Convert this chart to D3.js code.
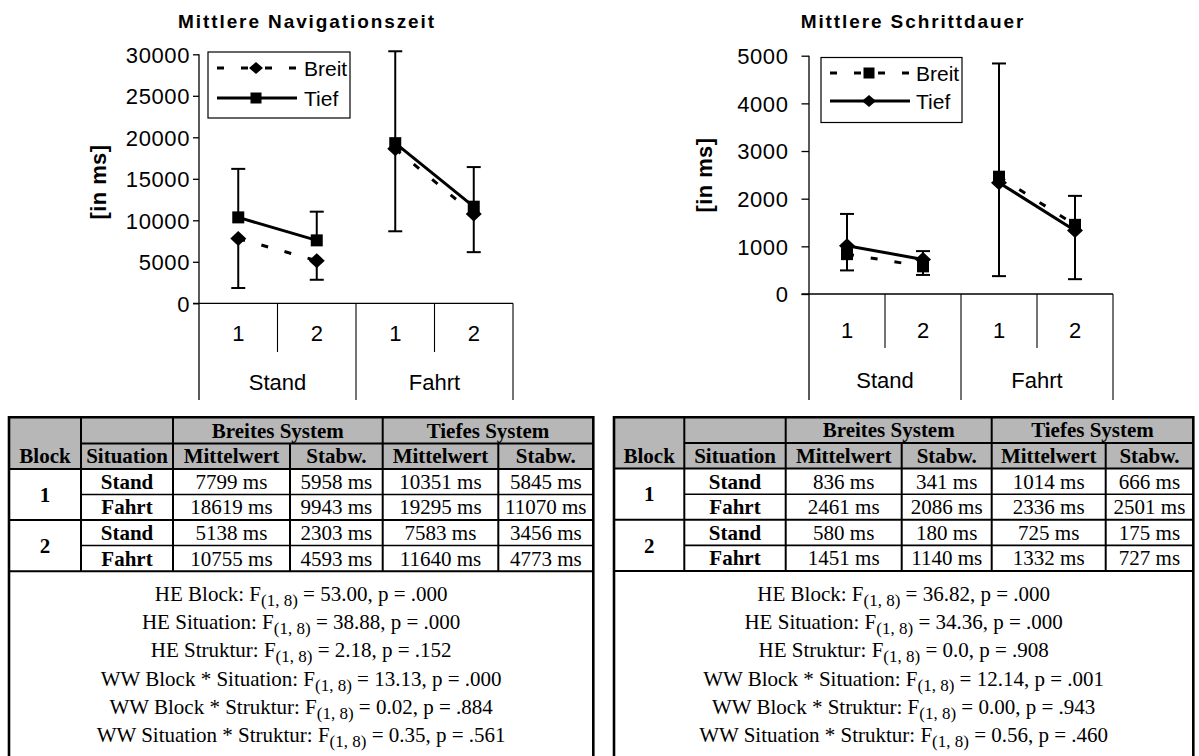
<!DOCTYPE html>
<html>
<head>
<meta charset="utf-8">
<script src="https://cdn.jsdelivr.net/npm/d3@7"></script>
<style>
  body { margin: 0; background: #fff; }
  svg { display: block; }
</style>
</head>
<body>
<svg id="fig" width="1199" height="756"></svg>
<script>
// ---- data ----------------------------------------------------------
const situations = ["Stand", "Fahrt"];
const blocks = ["1", "2"];
const seriesNames = ["Breit", "Tief"];

// table row order: Block 1 Stand, Block 1 Fahrt, Block 2 Stand, Block 2 Fahrt
const rowBlock = ["1", "1", "2", "2"];
const rowSituation = ["Stand", "Fahrt", "Stand", "Fahrt"];

// Mittlere Navigationszeit (ms)
const navBreitMean = [7799, 18619, 5138, 10755];
const navBreitSd   = [5958, 9943, 2303, 4593];
const navTiefMean  = [10351, 19295, 7583, 11640];
const navTiefSd    = [5845, 11070, 3456, 4773];
const navTicks     = [0, 5000, 10000, 15000, 20000, 25000, 30000];

// Mittlere Schrittdauer (ms)
const stepBreitMean = [836, 2461, 580, 1451];
const stepBreitSd   = [341, 2086, 180, 1140];
const stepTiefMean  = [1014, 2336, 725, 1332];
const stepTiefSd    = [666, 2501, 175, 727];
const stepTicks     = [0, 1000, 2000, 3000, 4000, 5000];

// ANOVA results: effect, F, p
const statEffects = ["HE Block", "HE Situation", "HE Struktur",
  "WW Block * Situation", "WW Block * Struktur", "WW Situation * Struktur"];
const navStatF  = ["53.00", "38.88", "2.18", "13.13", "0.02", "0.35"];
const navStatP  = [".000", ".000", ".152", ".000", ".884", ".561"];
const stepStatF = ["36.82", "34.36", "0.0", "12.14", "0.00", "0.56"];
const stepStatP = [".000", ".000", ".908", ".001", ".943", ".460"];
const statDf = "(1, 8)";

// ---- drawing -------------------------------------------------------
const svg = d3.select("#fig");
const SANS = "'Liberation Sans', Arial, sans-serif";
const SERIF = "'Liberation Serif', 'Times New Roman', serif";

function diamondPath(hw, hh) {
  return `M0,${-hh}L${hw},0L0,${hh}L${-hw},0Z`;
}
function squarePath(h) {
  return `M${-h},${-h}H${h}V${h}H${-h}Z`;
}

function drawChart(cfg) {
  const g = svg.append("g");
  const cats = situations.flatMap(s => blocks.map(b => s + "|" + b));
  const x = d3.scaleBand().domain(cats).range([cfg.xL, cfg.xR]);
  const y = d3.scaleLinear().domain([0, d3.max(cfg.ticks)]).range([cfg.y0, cfg.y1]);
  const bw = x.bandwidth();
  const cx = c => x(c) + bw / 2;
  const idx = c => {
    const [s, b] = c.split("|");
    return rowSituation.findIndex((ss, k) => ss === s && rowBlock[k] === b);
  };

  // title
  g.append("text")
    .attr("x", cfg.titleX).attr("y", 28)
    .attr("text-anchor", "middle")
    .style("font", `bold 19px ${SANS}`)
    .style("letter-spacing", "1.9px")
    .text(cfg.title);

  // y axis label
  g.append("text")
    .attr("transform", `translate(${cfg.labelX},${cfg.labelY}) rotate(-90)`)
    .attr("text-anchor", "middle")
    .style("font", `bold 22px ${SANS}`)
    .style("letter-spacing", "0.4px")
    .text("[in ms]");

  // y axis
  const ax = g.append("g")
    .attr("transform", `translate(${cfg.xL},0)`)
    .call(d3.axisLeft(y).tickValues(cfg.ticks).tickSizeOuter(0)
      .tickSize(cfg.tickLen).tickPadding(cfg.tickPad).tickFormat(d3.format("d")));
  ax.select(".domain").remove();
  ax.selectAll(".tick line").attr("stroke", "#000").attr("stroke-width", 1.3);
  ax.selectAll(".tick text")
    .style("font", `22px ${SANS}`).style("letter-spacing", "0.6px")
    .attr("fill", "#000").attr("dy", "0.36em");

  // axis frame and category dividers
  g.append("line").attr("x1", cfg.xL).attr("x2", cfg.xL)
    .attr("y1", cfg.y1).attr("y2", 400).attr("stroke", "#000").attr("stroke-width", 1.3);
  g.append("line").attr("x1", cfg.xL - cfg.tickLen).attr("x2", cfg.xR)
    .attr("y1", cfg.y0).attr("y2", cfg.y0).attr("stroke", "#000").attr("stroke-width", 1.3);
  cats.forEach((c, i) => {
    const right = x(c) + bw;
    const groupEnd = (i % blocks.length) === blocks.length - 1;
    g.append("line").attr("x1", right).attr("x2", right)
      .attr("y1", cfg.y0).attr("y2", groupEnd ? 400 : cfg.innerEnd)
      .attr("stroke", "#000").attr("stroke-width", 1.1);
  });

  // category labels
  g.selectAll(".blk").data(cats).join("text")
    .attr("x", cx).attr("y", cfg.blockY)
    .attr("text-anchor", "middle")
    .style("font", `22px ${SANS}`)
    .text(c => c.split("|")[1]);
  situations.forEach(s => {
    const c0 = s + "|" + blocks[0], c1 = s + "|" + blocks[blocks.length - 1];
    g.append("text")
      .attr("x", (x(c0) + x(c1) + bw) / 2).attr("y", cfg.sitY)
      .attr("text-anchor", "middle")
      .style("font", `22px ${SANS}`)
      .text(s);
  });

  const capW = 7;
  // error bars: Breit downwards, Tief upwards
  const bars = [];
  cats.forEach(c => {
    const i = idx(c);
    bars.push({ c, from: cfg.breitMean[i], to: cfg.breitMean[i] - cfg.breitSd[i] });
    bars.push({ c, from: cfg.tiefMean[i], to: cfg.tiefMean[i] + cfg.tiefSd[i] });
  });
  g.selectAll(".eb").data(bars).join("line")
    .attr("x1", d => cx(d.c)).attr("x2", d => cx(d.c))
    .attr("y1", d => y(d.from)).attr("y2", d => y(d.to))
    .attr("stroke", "#000").attr("stroke-width", 2);
  g.selectAll(".cap").data(bars).join("line")
    .attr("x1", d => cx(d.c) - capW).attr("x2", d => cx(d.c) + capW)
    .attr("y1", d => y(d.to)).attr("y2", d => y(d.to))
    .attr("stroke", "#000").attr("stroke-width", 2);

  // lines, connected within each situation
  const line = d3.line().x(d => cx(d.c)).y(d => y(d.v));
  const series = [
    { name: "Breit", mean: cfg.breitMean, dash: "7,17", marker: cfg.breitMarker },
    { name: "Tief", mean: cfg.tiefMean, dash: null, marker: cfg.tiefMarker }
  ];
  series.forEach(s => {
    situations.forEach(sit => {
      const pts = blocks.map(b => { const c = sit + "|" + b; return { c, v: s.mean[idx(c)] }; });
      g.append("path").attr("d", line(pts))
        .attr("fill", "none").attr("stroke", "#000").attr("stroke-width", 3)
        .attr("stroke-dasharray", s.dash);
    });
  });
  series.forEach(s => {
    g.selectAll(null).data(cats).join("path")
      .attr("transform", c => `translate(${cx(c)},${y(s.mean[idx(c)])})`)
      .attr("d", s.marker === "diamond" ? diamondPath(8, 7.5) : squarePath(6))
      .attr("fill", "#000");
  });

  // legend
  const L = cfg.legend;
  g.append("rect").attr("x", L.x).attr("y", L.y).attr("width", L.w).attr("height", L.h)
    .attr("fill", "#fff").attr("stroke", "#000").attr("stroke-width", 1.2);
  series.forEach((s, k) => {
    const ly = L.rows[k];
    g.append("line").attr("x1", L.x1).attr("x2", L.x2).attr("y1", ly).attr("y2", ly)
      .attr("stroke", "#000").attr("stroke-width", 3).attr("stroke-dasharray", s.dash);
    g.append("path").attr("transform", `translate(${L.mx},${ly})`)
      .attr("d", s.marker === "diamond" ? diamondPath(7, 6) : squarePath(5.5))
      .attr("fill", "#000");
    g.append("text").attr("x", L.tx).attr("y", ly + 7.5)
      .style("font", `21px ${SANS}`).text(s.name);
  });
}

drawChart({
  title: "Mittlere Navigationszeit", titleX: 307,
  labelX: 106, labelY: 182,
  xL: 199, xR: 513, y0: 303.3, y1: 54.3, ticks: navTicks,
  tickLen: 6, tickPad: 3, innerEnd: 352, blockY: 341, sitY: 390,
  breitMean: navBreitMean, breitSd: navBreitSd,
  tiefMean: navTiefMean, tiefSd: navTiefSd,
  breitMarker: "diamond", tiefMarker: "square",
  legend: { x: 208, y: 52, w: 142, h: 66, rows: [68, 98], x1: 217, x2: 297, mx: 256, tx: 304 }
});

drawChart({
  title: "Mittlere Schrittdauer", titleX: 913,
  labelX: 712, labelY: 175,
  xL: 809, xR: 1113, y0: 294, y1: 55.7, ticks: stepTicks,
  tickLen: 7.5, tickPad: 13, innerEnd: 348, blockY: 338, sitY: 388,
  breitMean: stepBreitMean, breitSd: stepBreitSd,
  tiefMean: stepTiefMean, tiefSd: stepTiefSd,
  breitMarker: "square", tiefMarker: "diamond",
  legend: { x: 821, y: 57.5, w: 141, h: 65, rows: [73, 101], x1: 830, x2: 910, mx: 869, tx: 916 }
});

// ---- tables --------------------------------------------------------
function drawTable(t) {
  const g = svg.append("g");
  const c = t.cols;           // column edges
  const r = t.rows;           // row edges: top, split, headerBottom, body rows...
  const right = c[c.length - 1];
  const bodyEnd = r[r.length - 1];
  const bottom = 760;

  // header shading
  g.append("rect").attr("x", c[0]).attr("y", r[0])
    .attr("width", right - c[0]).attr("height", r[2] - r[0]).attr("fill", "#b7b7b7");

  const hl = (x1, x2, yy, w) => g.append("line").attr("x1", x1).attr("x2", x2)
    .attr("y1", yy).attr("y2", yy).attr("stroke", "#000").attr("stroke-width", w);
  const vl = (xx, y1, y2, w) => g.append("line").attr("x1", xx).attr("x2", xx)
    .attr("y1", y1).attr("y2", y2).attr("stroke", "#000").attr("stroke-width", w);

  hl(c[1], right, r[1], 1.8);
  hl(c[0], right, r[2], 2);
  hl(c[1], right, r[3], 1.6);
  hl(c[0], right, r[4], 2);
  hl(c[1], right, r[5], 1.6);
  hl(c[0], right, r[6], 2);
  vl(c[1], r[0], bodyEnd, 2);
  vl(c[2], r[0], bodyEnd, 2);
  vl(c[3], r[1], bodyEnd, 2);
  vl(c[4], r[0], bodyEnd, 2);
  vl(c[5], r[1], bodyEnd, 2);
  // outer frame
  g.append("path")
    .attr("d", `M${c[0]},${bottom}V${r[0]}H${right}V${bottom}`)
    .attr("fill", "none").attr("stroke", "#000").attr("stroke-width", 2.6);

  const mid = (a, b) => (a + b) / 2;
  const txt = (xx, yy, s, bold) => g.append("text")
    .attr("x", xx).attr("y", yy + 7.2).attr("text-anchor", "middle")
    .style("font", `${bold ? "bold " : ""}21px ${SERIF}`).text(s);

  txt(mid(c[2], c[4]), mid(r[0], r[1]), "Breites System", true);
  txt(mid(c[4], right), mid(r[0], r[1]), "Tiefes System", true);
  const heads = ["Block", "Situation", "Mittelwert", "Stabw.", "Mittelwert", "Stabw."];
  heads.forEach((h, k) => txt(mid(c[k], c[k + 1]), mid(r[1], r[2]), h, true));

  // block numbers span two rows each
  blocks.forEach((b, k) => txt(mid(c[0], c[1]), r[3 + 2 * k], b, true));

  const cols = [t.breitMean, t.breitSd, t.tiefMean, t.tiefSd];
  rowSituation.forEach((s, i) => {
    const cy = mid(r[2 + i], r[3 + i]);
    txt(mid(c[1], c[2]), cy, s, true);
    cols.forEach((arr, k) => txt(mid(c[2 + k], c[3 + k]), cy, arr[i] + " ms", false));
  });

  // statistics lines with subscripted degrees of freedom
  const cxm = mid(c[0], right);
  statEffects.forEach((e, i) => {
    const yy = t.statY0 + i * t.statStep + 7.2;
    const tx = g.append("text").attr("x", cxm).attr("y", yy).attr("text-anchor", "middle")
      .style("font", `21px ${SERIF}`);
    tx.append("tspan").text(`${e}: F`);
    tx.append("tspan").attr("dy", 5).style("font-size", "17px").text(statDf);
    tx.append("tspan").attr("dy", -5).text(` = ${t.statF[i]}, p = ${t.statP[i]}`);
  });
}

drawTable({
  cols: [9, 81, 173, 290, 382.7, 498.3, 593.3],
  rows: [417.3, 443.5, 469, 494.5, 520, 545.5, 571.3],
  breitMean: navBreitMean, breitSd: navBreitSd, tiefMean: navTiefMean, tiefSd: navTiefSd,
  statF: navStatF, statP: navStatP, statY0: 593.5, statStep: 28.3
});

drawTable({
  cols: [614, 684.3, 785.7, 901.7, 991.7, 1105.7, 1193.3],
  rows: [417.3, 443, 468.5, 494.2, 519.8, 545.4, 571],
  breitMean: stepBreitMean, breitSd: stepBreitSd, tiefMean: stepTiefMean, tiefSd: stepTiefSd,
  statF: stepStatF, statP: stepStatP, statY0: 593.5, statStep: 28.3
});
</script>
</body>
</html>
